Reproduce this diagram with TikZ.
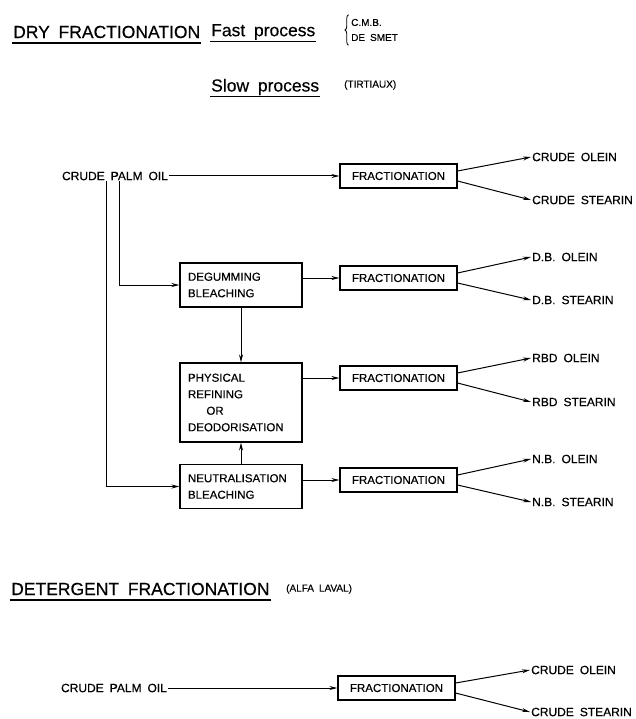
\documentclass[tikz,border=0pt]{standalone}
\usepackage{fontspec}
\setmainfont[WordSpace=1.8,FakeBold=0.4]{Liberation Sans}
\usetikzlibrary{arrows.meta,decorations.pathreplacing}
\def\boxfont{\fontsize{11.5}{16.5}\selectfont}
\def\labfont{\fontsize{12}{16.5}\selectfont}
\def\headfont{\fontsize{17.5}{20}\selectfont}
\tikzset{
  procbox/.style={draw,line width=1.1pt,font=\boxfont,align=left,inner xsep=8pt},
  fracbox/.style={procbox,minimum width=117pt,minimum height=24pt},
  treatbox/.style={procbox,text width=106pt,minimum height=44pt},
  outlabel/.style={anchor=west,font=\labfont,inner sep=1pt},
  feed/.style={font=\labfont,inner sep=1pt},
  flow/.style={line width=1pt,-{Stealth[length=8pt,width=4pt]}},
  heading/.style={font=\headfont,inner sep=1pt,anchor=west},
  remark/.style={font=\fontsize{10}{15}\selectfont,inner sep=1pt,anchor=west},
  underl/.style={line width=1.4pt}
}

\begin{document}
\begin{tikzpicture}[x=1pt,y=-1pt]
    \useasboundingbox (0,0) rectangle (636,719);
    % dry fractionation
    \node[heading] (dry) at (12,32) {DRY FRACTIONATION};
    \node[heading] (fast) at (210,32) {Fast process};
    \node[remark,align=left] (firms) at (350,30) {C.M.B.\\DE SMET};
    \node[heading] (slow) at (210,87) {Slow process};
    \node[remark] (tirt) at (343,85) {(TIRTIAUX)};
    \draw[underl] ([yshift=-5pt]dry.base west) -- ([yshift=-5pt]dry.base east);
    \draw[underl] ([yshift=-5pt]fast.base west) -- ([yshift=-5pt]fast.base east);
    \draw[underl] ([yshift=-5pt]slow.base west) -- ([yshift=-5pt]slow.base east);
    \draw[line width=0.8pt,decorate,decoration={brace,amplitude=3.5pt}]
        ([xshift=-1.5pt,yshift=-3pt]firms.south west) -- ([xshift=-1.5pt,yshift=3pt]firms.north west);

    \node[feed] (crude1) at (115,176) {CRUDE PALM OIL};
    \node[fracbox] (frac1) at (398.5,176) {FRACTIONATION};
    \node[outlabel] (olein1) at (531,157) {CRUDE OLEIN};
    \node[outlabel] (stear1) at (531,200) {CRUDE STEARIN};

    \node[treatbox] (degum) at (241,285) {DEGUMMING\\BLEACHING};
    \node[fracbox] (frac2) at (398.5,278) {FRACTIONATION};
    \node[outlabel] (olein2) at (531,257) {D.B. OLEIN};
    \node[outlabel] (stear2) at (531,300) {D.B. STEARIN};

    \node[treatbox,minimum height=79pt] (phys) at (241,402.5) {PHYSICAL\\REFINING\\\hspace{1.6em}OR\\DEODORISATION};
    \node[fracbox] (frac3) at (398.5,378) {FRACTIONATION};
    \node[outlabel] (olein3) at (531,358) {RBD OLEIN};
    \node[outlabel] (stear3) at (531,402) {RBD STEARIN};

    \node[treatbox] (neut) at (241,486.5) {NEUTRALISATION\\BLEACHING};
    \node[fracbox] (frac4) at (398.5,480) {FRACTIONATION};
    \node[outlabel] (olein4) at (531,459) {N.B. OLEIN};
    \node[outlabel] (stear4) at (531,502) {N.B. STEARIN};

    \draw[flow] (crude1) -- (frac1);
    \draw[flow] ([xshift=4pt]crude1.south) |- (degum.west);
    \draw[flow] ([xshift=-9pt]crude1.south) |- (neut.west);
    \draw[flow] (degum) -- (phys);
    \draw[flow] (neut) -- (phys);
    \draw[flow] (degum.east |- frac2) -- (frac2);
    \draw[flow] (phys.east |- frac3) -- (frac3);
    \draw[flow] (neut.east |- frac4) -- (frac4);
    \foreach \i in {1,2,3,4}{
        \draw[flow] ([yshift=5pt]frac\i.east) -- (olein\i.west);
        \draw[flow] ([yshift=-5pt]frac\i.east) -- (stear\i.west);
    }

    % detergent fractionation
    \node[heading] (deterg) at (10,589) {DETERGENT FRACTIONATION};
    \node[remark] (alfa) at (285,589) {(ALFA LAVAL)};
    \draw[underl] ([yshift=-5pt]deterg.base west) -- ([yshift=-5pt]deterg.base east);

    \node[feed] (crude5) at (114,688) {CRUDE PALM OIL};
    \node[fracbox] (frac5) at (396.5,688) {FRACTIONATION};
    \node[outlabel] (olein5) at (530,670) {CRUDE OLEIN};
    \node[outlabel] (stear5) at (530,712) {CRUDE STEARIN};
    \draw[flow] (crude5) -- (frac5);
    \draw[flow] ([yshift=5pt]frac5.east) -- (olein5.west);
    \draw[flow] ([yshift=-5pt]frac5.east) -- (stear5.west);
\end{tikzpicture}
\end{document}
